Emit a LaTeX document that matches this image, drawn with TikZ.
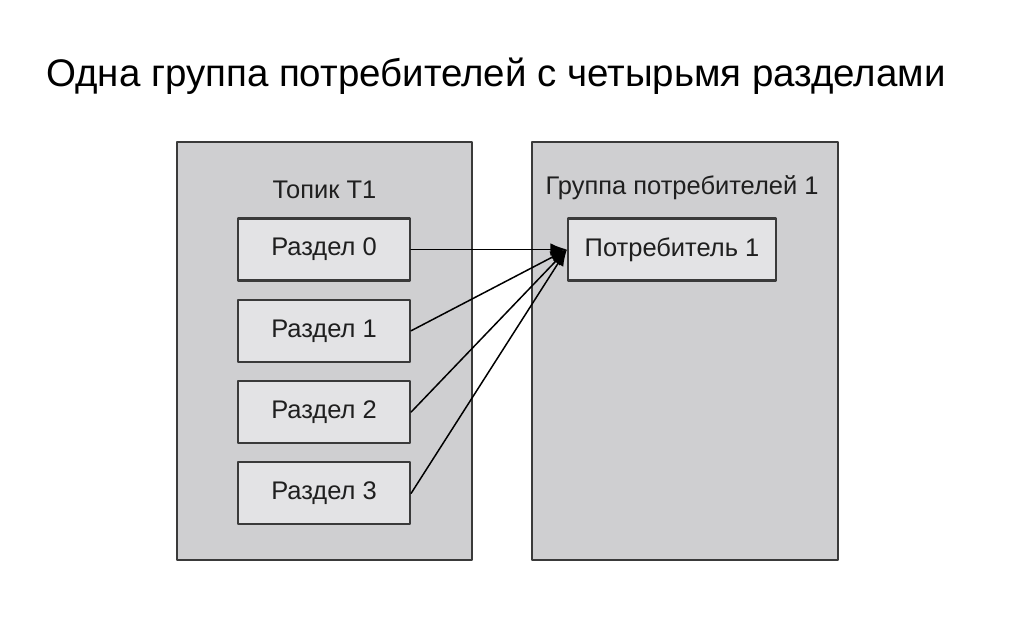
\documentclass[tikz,border=0pt]{standalone}
\usepackage{fontspec}
\setmainfont{Liberation Sans}
\usetikzlibrary{arrows.meta}
\definecolor{boxgray}{HTML}{CFCFD1}
\definecolor{partgray}{HTML}{E3E3E5}
\definecolor{edgegray}{HTML}{3A3A3A}
\tikzset{
    lab/.style={
        font=\fontsize{14.5}{17}\selectfont, text=black!88
    },
    titlelab/.style={
        font=\fontsize{21.9}{26}\selectfont, text=black
    },
    container/.style={
        draw=edgegray, fill=boxgray, line width=1.25pt, inner sep=0pt
    },
    partbox/.style={
        lab, draw=edgegray, fill=partgray, line width=1.25pt,
        minimum width=3.44cm, minimum height=1.24cm, inner sep=0pt
    },
    conn/.style={
        -{Latex[length=3.3mm,width=2.5mm]}, line width=0.85pt, black
    }
}

\begin{document}
\begin{tikzpicture}[x=0.02cm,y=0.02cm, line cap=round, line join=round]

\useasboundingbox (0,0) rectangle (1024,638);

\node[titlelab, anchor=base west] (title) at (40,551)
  {Одна группа потребителей с четырьмя разделами};

% topic T1
\node[container, minimum width=5.9cm, minimum height=8.36cm] (topic) at (324.5,287) {};
\node[lab, anchor=base] (topiclab) at (324.5,439) {Топик Т1};

\foreach \i in {0,1,2,3} {
  \node[partbox] (part\i) at (324,{388.5-81.3*\i}) {Раздел \i};
}

% consumer group 1
\node[container, minimum width=6.12cm, minimum height=8.36cm] (group) at (685,287) {};
\node[lab, anchor=base] (grouplab) at (682,443) {Группа потребителей 1};
\node[partbox, minimum width=4.16cm] (cons) at (672,388.5) {Потребитель 1};

\foreach \i in {0,1,2,3} {
  \draw[conn] (part\i.east) -- (cons.west);
}

\end{tikzpicture}
\end{document}
